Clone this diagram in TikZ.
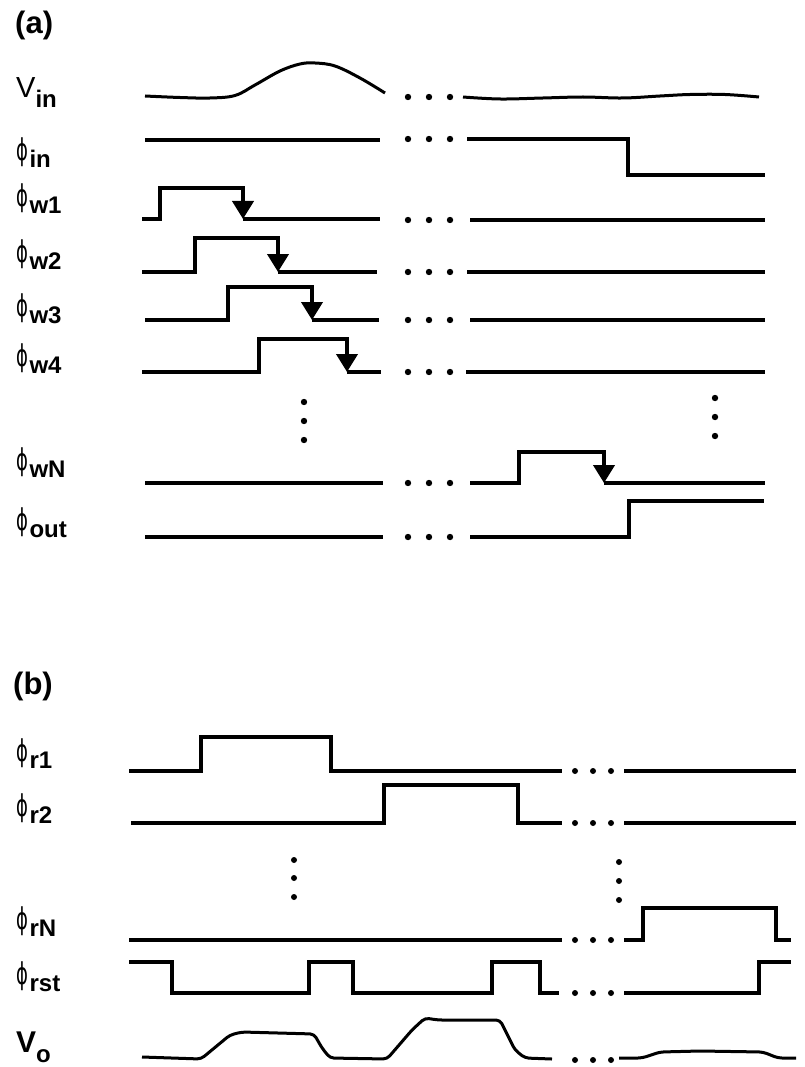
\documentclass[tikz,border=0pt]{standalone}
\usepackage{fontspec}
\setmainfont{Liberation Sans}
\newfontfamily\phifont{DejaVu Sans}
\usetikzlibrary{arrows.meta}

\newcommand\subtxt[1]{\fontsize{24}{24}\selectfont\bfseries #1}
\newcommand\philab[1]{{\phifont\fontsize{30}{30}\selectfont\scalebox{0.6}[1]{ϕ}}\kern1.5pt\raisebox{-7pt}{\subtxt{#1}}}

\tikzset{
  sig/.style={line width=4pt},
  wave/.style={line width=3pt, line join=round},
  fall/.style={line width=4pt, line cap=rect, -{Triangle[width=21pt,length=18pt]}},
  lbl/.style={anchor=base west, inner sep=0pt}
}

\begin{document}
\begin{tikzpicture}[x=1pt,y=-1pt]
\useasboundingbox (0,0) rectangle (804,1067);

% part (a)
\node[lbl] (pa) at (15,34) {\fontsize{31}{31}\selectfont\bfseries (a)};
\node[lbl] (vin) at (16,98) {\fontsize{29}{29}\selectfont V\raisebox{-10pt}{\subtxt{in}}};
\node[lbl] (phiin) at (16,161) {\philab{in}};
\node[lbl] (phiw1) at (16,207) {\philab{w1}};
\node[lbl] (phiw2) at (16,262) {\philab{w2}};
\node[lbl] (phiw3) at (16,316) {\philab{w3}};
\node[lbl] (phiw4) at (16,366) {\philab{w4}};
\node[lbl] (phiwN) at (16,470) {\philab{wN}};
\node[lbl] (phiout) at (16,530) {\philab{out}};

\draw[wave] plot[smooth,tension=0.6] coordinates {(145,96) (180,97.5) (210,98) (235,95.5) (255,85) (280,71) (300,64) (315,63) (335,66) (360,78) (385,93)};
\draw[wave] plot[smooth,tension=0.6] coordinates {(463,97) (500,99) (543,98) (583,97) (623,98) (660,96) (690,94.5) (725,94.5) (759,97)};

\draw[sig] (145,140) -- (380,140);
\draw[sig] (467,139) -- (628,139) -- (628,175) -- (765,175);

\draw[sig] (142,219) -- (160,219) -- (160,188) -- (243,188);
\draw[fall] (243,188) -- (243,219);
\draw[sig] (243,219) -- (380,219);
\draw[sig] (470,220) -- (765,220);

\draw[sig] (142,272) -- (195,272) -- (195,238) -- (278,238);
\draw[fall] (278,238) -- (278,272);
\draw[sig] (278,272) -- (377,272);
\draw[sig] (467,272) -- (765,272);

\draw[sig] (145,320) -- (228,320) -- (228,287) -- (312,287);
\draw[fall] (312,287) -- (312,320);
\draw[sig] (312,320) -- (379,320);
\draw[sig] (470,320) -- (765,320);

\draw[sig] (142,372) -- (259,372) -- (259,339) -- (347,339);
\draw[fall] (347,339) -- (347,372);
\draw[sig] (347,372) -- (381,372);
\draw[sig] (466,372) -- (765,372);

\draw[sig] (145,483) -- (383,483);
\draw[sig] (470,483) -- (519,483) -- (519,452) -- (604,452);
\draw[fall] (604,452) -- (604,483);
\draw[sig] (604,483) -- (765,483);

\draw[sig] (145,537) -- (383,537);
\draw[sig] (470,537) -- (629,537) -- (629,501) -- (764,501);

\foreach \y in {97,139,220,272,320,372,483,537}
  \foreach \x in {408,429,450}
    \fill (\x,\y) circle (3.2);
\foreach \y in {402,421,440} \fill (304,\y) circle (3.2);
\foreach \y in {398,417,436} \fill (715,\y) circle (3.2);

% part (b)
\node[lbl] (pb) at (13,694) {\fontsize{31}{31}\selectfont\bfseries (b)};
\node[lbl] (phir1) at (16,761) {\philab{r1}};
\node[lbl] (phir2) at (16,816) {\philab{r2}};
\node[lbl] (phirN) at (16,929) {\philab{rN}};
\node[lbl] (phirst) at (16,984) {\philab{rst}};
\node[lbl] (vo) at (16,1052) {\fontsize{30}{30}\selectfont\bfseries V\raisebox{-10pt}{\subtxt{o}}};

\draw[sig] (129,771) -- (201,771) -- (201,737) -- (331,737) -- (331,771) -- (562,771);
\draw[sig] (624,771) -- (796,771);

\draw[sig] (131,823) -- (384,823) -- (384,785) -- (518,785) -- (518,823) -- (562,823);
\draw[sig] (624,823) -- (796,823);

\draw[sig] (129,940) -- (562,940);
\draw[sig] (624,940) -- (643,940) -- (643,908) -- (776,908) -- (776,940) -- (791,940);

\draw[sig] (129,962) -- (172,962) -- (172,993) -- (309,993) -- (309,962) -- (353,962) -- (353,993)
  -- (492,993) -- (492,962) -- (540,962) -- (540,993) -- (559,993);
\draw[sig] (624,993) -- (759,993) -- (759,962) -- (791,962);

\draw[wave,rounded corners=4pt] (142,1057) -- (201,1059) -- (230,1035) -- (242,1032) -- (314,1034)
  -- (322,1048) -- (330,1058) -- (387,1059) -- (412,1030) -- (425,1018) -- (438,1020) -- (500,1020)
  -- (515,1050) -- (525,1058) -- (552,1059);
\draw[wave,rounded corners=4pt] (619,1058) -- (642,1058) -- (660,1052) -- (700,1051) -- (763,1052)
  -- (778,1058) -- (796,1058);

\foreach \y in {771,823,940,993,1060}
  \foreach \x in {575,593,611}
    \fill (\x,\y) circle (3);
\foreach \y in {860,878,897} \fill (294,\y) circle (3);
\foreach \y in {862,881,900} \fill (619,\y) circle (3);

\end{tikzpicture}
\end{document}
